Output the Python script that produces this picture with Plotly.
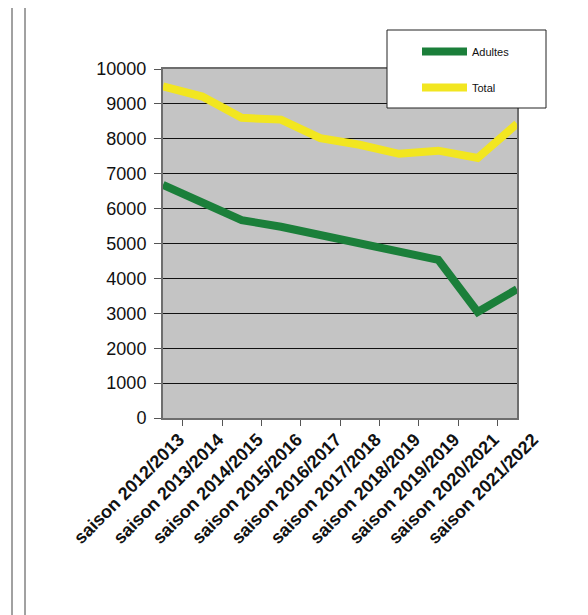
import plotly.graph_objects as go

saisons = ["saison 2012/2013", "saison 2013/2014", "saison 2014/2015", "saison 2015/2016",
           "saison 2016/2017", "saison 2017/2018", "saison 2018/2019", "saison 2019/2019",
           "saison 2020/2021", "saison 2021/2022"]
adultes = [6680, 6150, 5670, 5480, 5240, 5020, 4760, 4530, 3040, 3690]
total = [9500, 9210, 8600, 8550, 8020, 7830, 7570, 7660, 7450, 8430]
y_ticks = [0, 1000, 2000, 3000, 4000, 5000, 6000, 7000, 8000, 9000, 10000]
y_tick_text = [str(v) for v in y_ticks]

OFF = 8  # page body margin
W, H = 580, 607
L, R, T, B = 155, 71, 61, 197
pw, ph = W - L - R, H - T - B

def px_x(p):  # page pixel -> paper
    return (p - OFF - L) / pw

def px_y(p):
    return (H - B - (p - OFF)) / ph

fig = go.Figure()
fig.add_trace(go.Scatter(x=saisons, y=adultes, mode="lines", name="Adultes",
                         legendgroup="a",
                         line=dict(color="#1b7f3a", width=8)))
fig.add_trace(go.Scatter(x=saisons, y=total, mode="lines", name="Total",
                         legendgroup="b",
                         line=dict(color="#f2e620", width=8)))

shapes = [
    dict(type="rect", xref="paper", yref="paper",
         x0=px_x(387), x1=px_x(546), y0=px_y(108), y1=px_y(30),
         line=dict(color="#222", width=1), fillcolor="white", layer="above"),
    dict(type="line", xref="paper", yref="paper",
         x0=px_x(12), x1=px_x(12), y0=px_y(5), y1=px_y(615),
         line=dict(color="#444", width=1)),
    dict(type="line", xref="paper", yref="paper",
         x0=px_x(25), x1=px_x(25), y0=px_y(5), y1=px_y(615),
         line=dict(color="#444", width=1)),
]

fig.update_layout(
    width=W, height=H,
    margin=dict(l=L, r=R, t=T, b=B, autoexpand=False),
    paper_bgcolor="white",
    plot_bgcolor="#c4c4c4",
    font=dict(family="Arial, Liberation Sans, sans-serif", color="#111"),
    shapes=shapes,
    showlegend=True,
    legend=dict(x=px_x(417), y=px_y(37), xanchor="left", yanchor="top",
                bgcolor="rgba(0,0,0,0)", borderwidth=0,
                traceorder="grouped", tracegroupgap=17, itemwidth=45,
                font=dict(size=11, family="Arial, Liberation Sans, sans-serif", color="#111")),
    xaxis=dict(type="category", tickson="boundaries", ticks="outside", ticklen=6,
               tickcolor="#555", tickwidth=1,
               tickangle=-45, ticklabelshift=16, ticklabelstandoff=2,
               tickfont=dict(size=18, weight="bold", family="Arial, Liberation Sans, sans-serif", color="#111"),
               showline=True, linecolor="#6e6e6e", linewidth=2, mirror=True,
               showgrid=False, zeroline=False),
    yaxis=dict(range=[0, 10000], tickvals=y_ticks, ticktext=y_tick_text,
               ticks="outside", ticklen=7, ticklabelstandoff=4,
               tickcolor="#555", tickwidth=1,
               tickfont=dict(size=18, family="Arial, Liberation Sans, sans-serif", color="#111"),
               showline=True, linecolor="#6e6e6e", linewidth=2, mirror=True,
               showgrid=True, gridcolor="#111", gridwidth=1, zeroline=False),
)

fig.write_html("out.html")
